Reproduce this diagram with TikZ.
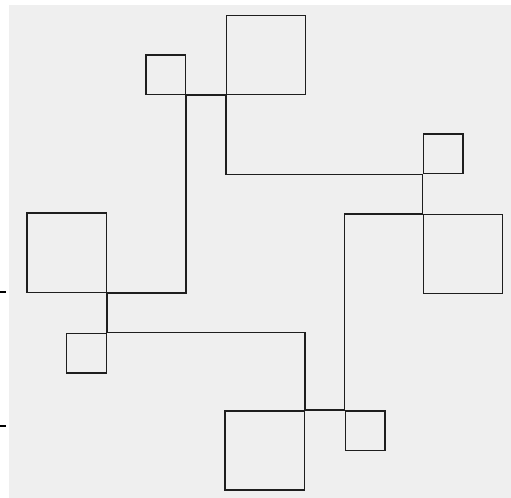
\documentclass[tikz,border=0pt]{standalone}
\usepackage{xcolor}
\usepackage{tikz}
\usetikzlibrary{positioning}
\definecolor{BgGray}{HTML}{EFEFEF}
\definecolor{LineDark}{HTML}{1E1E1E}

\begin{document}
\begin{tikzpicture}[
  x=39.63pt,y=39.56pt,
  node distance=39.6pt,
  sqs/.style={draw=LineDark,line width=1.4pt,inner sep=0pt,minimum size=39.6pt},
  sqb/.style={draw=LineDark,line width=1.4pt,inner sep=0pt,minimum size=79.2pt},
  w/.style={draw=LineDark,line width=1.4pt},
  tk/.style={line width=2pt,color=black}
]
  \useasboundingbox (-0.681,-0.202) rectangle (12.213,12.386);
  \fill[BgGray] (-0.454,-0.202) rectangle (12.213,12.26);
  % ticks at the left edge
  \draw[tk] (-0.681,5) -- (-0.53,5);
  \draw[tk] (-0.681,1.61) -- (-0.53,1.61);
  % square pairs
  \node[sqs] (topS) at (3.5,10.5) {};
  \node[sqb,right=of topS.south east,anchor=south west] (topB) {};
  \node[sqs] (rightS) at (10.5,8.5) {};
  \node[sqb,below=of rightS.south west,anchor=north west] (rightB) {};
  \node[sqb] (leftB) at (1,6) {};
  \node[sqs,below=of leftB.south east,anchor=north east] (leftS) {};
  \node[sqb] (botB) at (6,1) {};
  \node[sqs,right=of botB.north east,anchor=north west] (botS) {};
  % links inside each pair
  \foreach \x/\y in {topS.south east/topB.south west,rightS.south west/rightB.north west,
    leftB.south east/leftS.north east,botB.north east/botS.north west}
    {\draw[w] (\x) -- (\y);}
  % long links
  \draw[w] (topS.south east) |- (leftB.south east);
  \draw[w] (topB.south west) |- (rightS.south west);
  \draw[w] (rightB.north west) -| (botS.north west);
  \draw[w] (leftS.north east) -| (botB.north east);
\end{tikzpicture}
\end{document}
